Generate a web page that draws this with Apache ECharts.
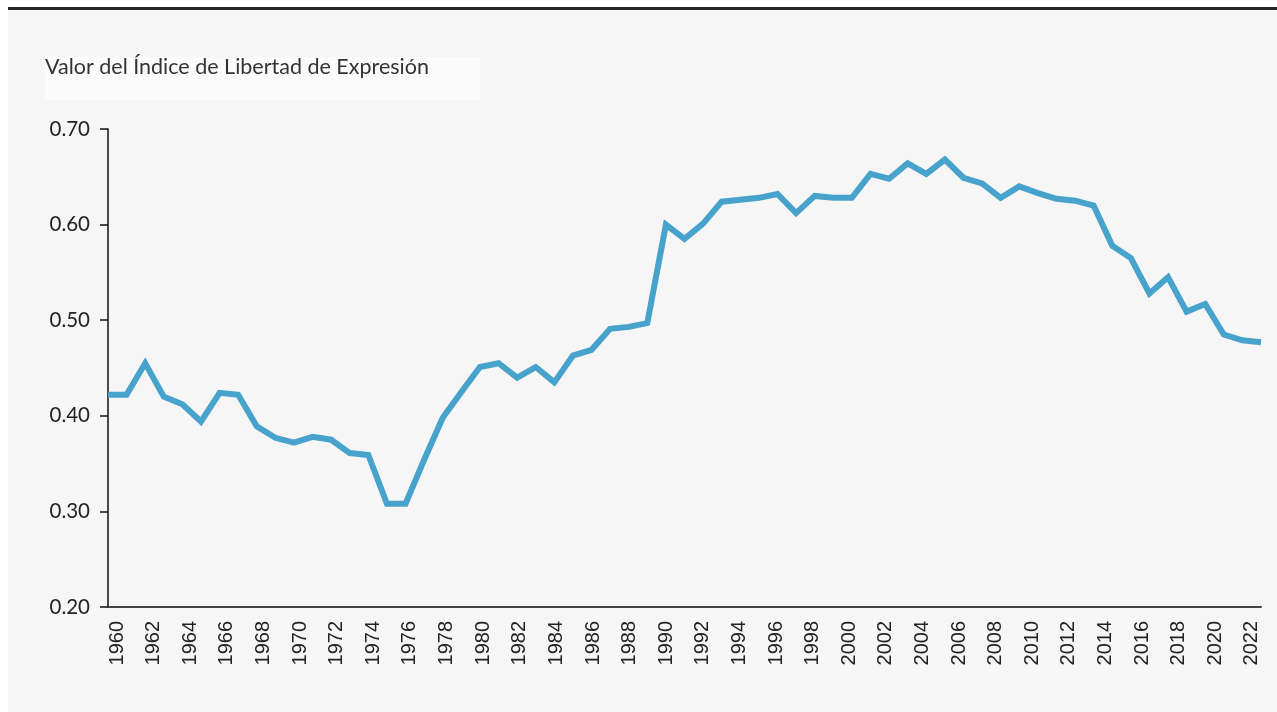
<!DOCTYPE html>
<html>
<head>
<meta charset="utf-8">
<script src="https://cdn.jsdelivr.net/npm/echarts@6/dist/echarts.min.js"></script>
<style>
  html, body { margin: 0; padding: 0; background: #fff; }
  .frame {
    position: absolute; left: 8px; top: 7px; right: 0; bottom: 0;
    border-top: 3px solid #262626; background: #f6f6f6;
  }
  #chart { position: absolute; left: 0; top: 0; width: 1277px; height: 712px; }
</style>
</head>
<body>
<div class="frame"></div>
<div id="chart"></div>
<script>
// años 1960 - 2022
const years = []
for (let y = 1960; y <= 2022; y++) years.push(String(y))

// Valor del Índice de Libertad de Expresión
const indexValues = [
  0.422, 0.422, 0.455, 0.420, 0.412, 0.394, 0.424, 0.422, 0.389, 0.377,
  0.372, 0.378, 0.375, 0.361, 0.359, 0.308, 0.308, 0.354, 0.398, 0.425,
  0.451, 0.455, 0.440, 0.451, 0.435, 0.463, 0.469, 0.491, 0.493, 0.497,
  0.600, 0.585, 0.601, 0.624, 0.626, 0.628, 0.632, 0.612, 0.630, 0.628,
  0.628, 0.653, 0.648, 0.664, 0.653, 0.668, 0.649, 0.643, 0.628, 0.640,
  0.633, 0.627, 0.625, 0.620, 0.578, 0.565, 0.528, 0.545, 0.509, 0.517,
  0.485, 0.479, 0.477
]

const titleText = 'Valor del Índice de Libertad de Expresión'

const chart = echarts.init(document.getElementById('chart'))
const option = {
  backgroundColor: 'transparent',
  animation: false,
  graphic: [
    { type: 'rect', left: 45, top: 57, shape: { width: 435, height: 43 }, style: { fill: '#fbfbfb' } },
    { type: 'text', left: 45, top: 56, style: { text: titleText, font: '21.5px Lato', fill: '#333' } }
  ],
  grid: { left: 108, right: 16, top: 129, bottom: 105, containLabel: false },
  xAxis: [
    {
      type: 'category',
      data: years,
      boundaryGap: false,
      axisLine: { lineStyle: { color: '#444', width: 2 } },
      axisTick: { show: false },
      axisLabel: { show: false },
      splitLine: { show: false }
    },
    {
      type: 'category',
      data: years,
      position: 'bottom',
      boundaryGap: true,
      axisLine: { show: false },
      axisTick: { show: false },
      axisLabel: {
        rotate: 90,
        interval: 1,
        margin: 14,
        fontFamily: 'Liberation Sans',
        fontSize: 20,
        color: '#222'
      },
      splitLine: { show: false }
    }
  ],
  yAxis: {
    type: 'value',
    min: 0.2,
    max: 0.7,
    interval: 0.1,
    axisLine: { show: true, lineStyle: { color: '#111', width: 1.5 } },
    axisTick: { show: true, length: 8, lineStyle: { color: '#111', width: 1.5 } },
    axisLabel: {
      margin: 18,
      fontFamily: 'Lato',
      fontSize: 20.5,
      color: '#222',
      formatter: (v) => v.toFixed(2)
    },
    splitLine: { show: false }
  },
  series: [
    {
      type: 'line',
      xAxisIndex: 0,
      data: indexValues,
      showSymbol: false,
      symbol: 'none',
      lineStyle: { color: '#47a2cc', width: 6, join: 'miter', cap: 'butt' }
    }
  ]
}
chart.setOption(option)
</script>
</body>
</html>
